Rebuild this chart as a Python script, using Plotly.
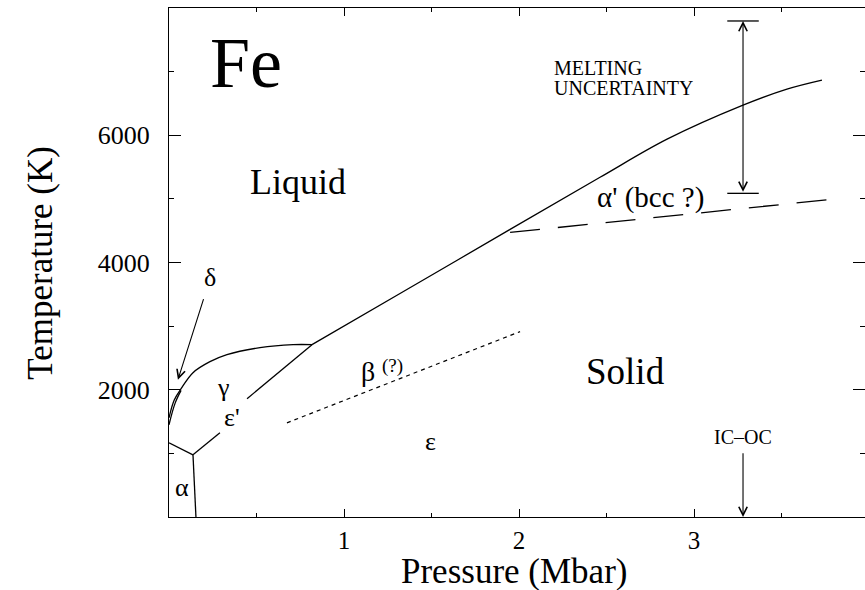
import plotly.graph_objects as go

# ---------------- data (Pressure in Mbar, Temperature in K) ----------------
# liquid / epsilon melting curve
melt_P = [0.817, 1.32, 1.949, 2.463, 2.846, 3.28, 3.531, 3.731]
melt_T = [2709, 3512, 4520, 5339, 5938, 6473, 6725, 6867]
# delta / gamma - liquid boundary
gl_P = [0.0, 0.03, 0.069, 0.137, 0.234, 0.331, 0.52, 0.709, 0.817]
gl_T = [1560, 1840, 2016, 2268, 2441, 2552, 2662, 2709, 2709]
# delta - gamma boundary
dg_P = [0.0, 0.035, 0.069]
dg_T = [1450, 1790, 1990]
# alpha - gamma boundary
ag_P = [0.0, 0.137]
ag_T = [1165, 977]
# alpha - epsilon boundary
ae_P = [0.137, 0.154]
ae_T = [977, 0]
# gamma - epsilon boundary (interrupted by the label)
ge1_P = [0.137, 0.291]
ge1_T = [977, 1323]
ge2_P = [0.446, 0.817]
ge2_T = [1859, 2709]
# beta (?) dotted boundary
beta_P = [0.674, 2.006]
beta_T = [1480, 2914]
# alpha' (bcc ?) dashed boundary
ap_P = [1.949, 3.789]
ap_T = [4473, 4993]
# melting uncertainty bar
unc_P = 3.28
unc_T = [5087, 7796]
cap_P = [3.19, 3.37]
# inner core / outer core boundary pressure
icoc_P = 3.28
icoc_T = [1024, 0]
# delta arrow (tail -> head)
delta_arrow_P = [0.2, 0.051]
delta_arrow_T = [3449, 2157]

x_tickvals = [1, 2, 3]
x_ticktext = ["1", "2", "3"]
y_tickvals = [2000, 4000, 6000]
y_ticktext = ["2000", "4000", "6000"]

# labels: (text, P, T, size)
labels = [
    ("Fe", 0.44, 7135, 72),
    ("Liquid", 0.737, 5260, 36),
    ("Solid", 2.606, 2284, 37),
    ("δ", 0.234, 3764, 26),
    ("γ", 0.309, 2032, 26),
    ("ε'", 0.36, 1559, 26),
    ("α", 0.074, 457, 26),
    ("β", 1.137, 2284, 28),
    ("(?)", 1.275, 2380, 19),
    ("ε", 1.497, 1181, 26),
    ("α' (bcc ?)", 2.749, 5024, 29),
    ("IC–OC", 3.28, 1260, 20),
]
note_lines = ["MELTING", "UNCERTAINTY"]
note_P = 2.189
note_T = [7056, 6741]

FONT = "Liberation Serif, Times New Roman, serif"
BLACK = "black"

fig = go.Figure()


def line(px, ty, dash="solid", shape="linear", width=1.3):
    fig.add_trace(go.Scatter(x=px, y=ty, mode="lines", showlegend=False,
                             hoverinfo="skip",
                             line=dict(color=BLACK, width=width, dash=dash, shape=shape)))


line(melt_P, melt_T, shape="spline")
line(gl_P, gl_T, shape="spline")
line(dg_P, dg_T, shape="spline")
line(ag_P, ag_T)
line(ae_P, ae_T)
line(ge1_P, ge1_T)
line(ge2_P, ge2_T)
line(beta_P, beta_T, dash="4px,4px", width=1.2)
line(ap_P, ap_T, dash="30px,18px", width=1.3)
line(cap_P, [unc_T[0], unc_T[0]])
line(cap_P, [unc_T[1], unc_T[1]])

anns = []
for txt, p, t, s in labels:
    anns.append(dict(x=p, y=t, xref="x", yref="y", text=txt, showarrow=False,
                     xanchor="center", yanchor="middle",
                     font=dict(family=FONT, size=s, color=BLACK)))

for txt, t in zip(note_lines, note_T):
    anns.append(dict(x=note_P, y=t, xref="x", yref="y", text=txt,
                     xanchor="left", yanchor="middle", showarrow=False,
                     height=18, valign="middle",
                     font=dict(family=FONT, size=20, color=BLACK)))

# double-headed melting uncertainty arrow
anns.append(dict(x=unc_P, y=unc_T[1], ax=unc_P, ay=unc_T[0], xref="x", yref="y",
                 axref="x", ayref="y", text="", showarrow=True,
                 arrowside="end+start", arrowhead=5, startarrowhead=5,
                 arrowsize=1.5, startarrowsize=1.5, arrowwidth=1.1, arrowcolor=BLACK))
# IC-OC arrow
anns.append(dict(x=icoc_P, y=icoc_T[1], ax=icoc_P, ay=icoc_T[0], xref="x", yref="y",
                 axref="x", ayref="y", text="", showarrow=True,
                 arrowhead=5, arrowsize=1.5, arrowwidth=1.1, arrowcolor=BLACK))
# delta arrow
anns.append(dict(x=delta_arrow_P[1], y=delta_arrow_T[1], ax=delta_arrow_P[0],
                 ay=delta_arrow_T[0], xref="x", yref="y", axref="x", ayref="y",
                 text="", showarrow=True, arrowhead=5, arrowsize=1.5,
                 arrowwidth=1.1, arrowcolor=BLACK))

# axis titles
anns.append(dict(x=1.97, y=-0.108, xref="x", yref="paper", text="Pressure (Mbar)",
                 xanchor="center", yanchor="middle",
                 showarrow=False, font=dict(family=FONT, size=35, color=BLACK)))
anns.append(dict(x=-0.185, y=4000, xref="paper", yref="y", text="Temperature (K)",
                 xanchor="center", yanchor="middle",
                 textangle=-90, showarrow=False,
                 font=dict(family=FONT, size=35, color=BLACK)))

fig.update_layout(
    width=865, height=590,
    margin=dict(l=169, r=0, t=8, b=73),
    paper_bgcolor="white", plot_bgcolor="white",
    annotations=anns,
    showlegend=False,
)
fig.update_xaxes(
    range=[0, 3.977], showgrid=False, zeroline=False,
    showline=True, linecolor=BLACK, linewidth=1.3, mirror="ticks",
    ticks="inside", ticklen=8, tickwidth=1.1, tickcolor=BLACK,
    tickvals=x_tickvals, ticktext=x_ticktext, ticklabelstandoff=1,
    tickfont=dict(family=FONT, size=25, color=BLACK),
    minor=dict(dtick=0.5, tick0=0, ticks="inside", ticklen=4, tickwidth=1.1, tickcolor=BLACK),
)
fig.update_yaxes(
    range=[0, 8000], showgrid=False, zeroline=False,
    showline=True, linecolor=BLACK, linewidth=1.3, mirror="ticks",
    ticks="inside", ticklen=12, tickwidth=1.1, tickcolor=BLACK,
    tickvals=y_tickvals, ticktext=y_ticktext, ticklabelstandoff=13,
    tickfont=dict(family=FONT, size=26, color=BLACK),
    minor=dict(dtick=1000, tick0=0, ticks="inside", ticklen=5, tickwidth=1.1, tickcolor=BLACK),
)

fig.write_html("out.html")
